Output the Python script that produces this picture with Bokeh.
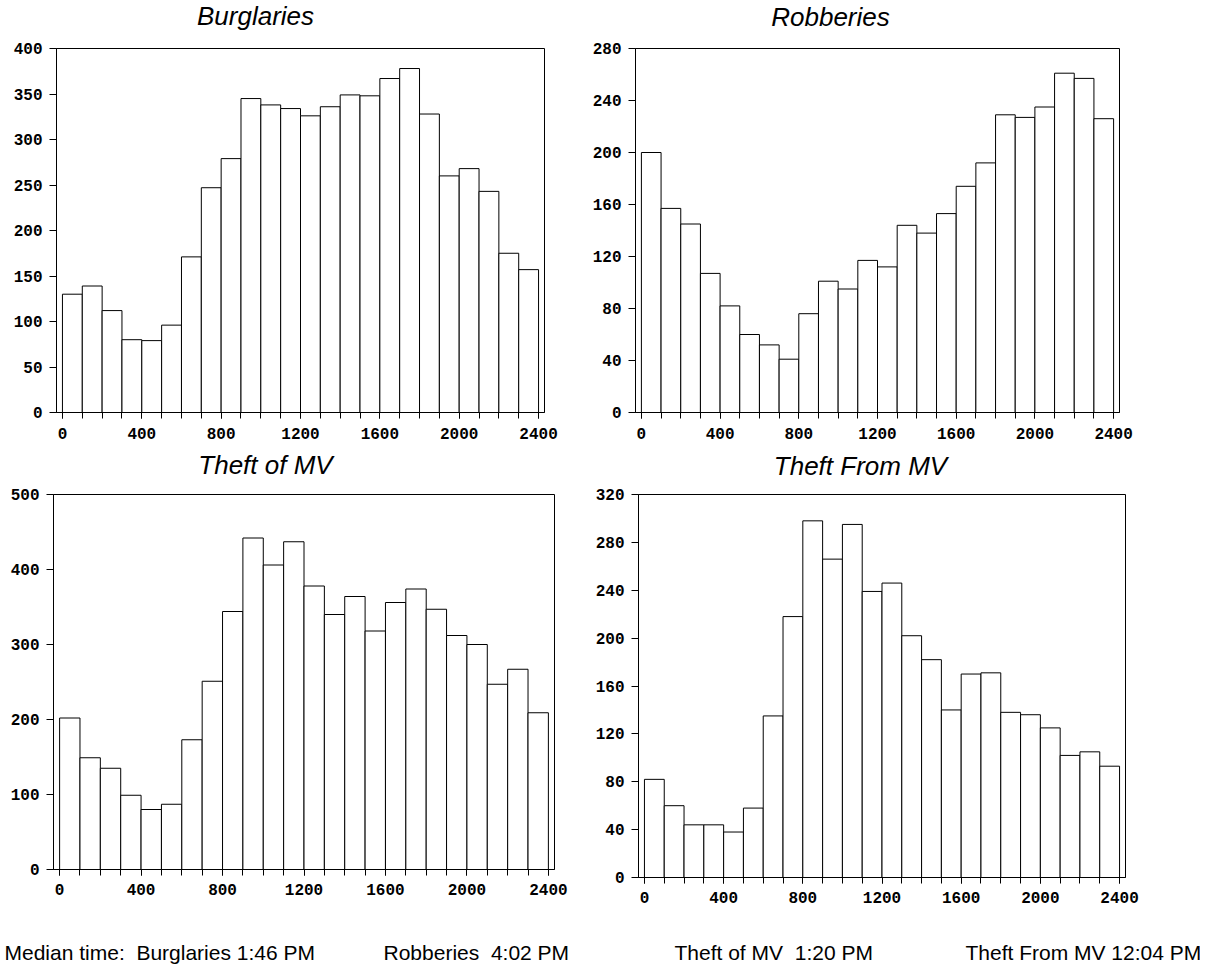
from bokeh.plotting import figure
from bokeh.models import Range1d, FixedTicker, Label
from bokeh.layouts import column, row
from bokeh.embed import file_html
from bokeh.resources import INLINE

# ---------------- data ----------------
bin_edges = [0, 100, 200, 300, 400, 500, 600, 700, 800, 900, 1000, 1100, 1200,
             1300, 1400, 1500, 1600, 1700, 1800, 1900, 2000, 2100, 2200, 2300, 2400]

burglaries = [130, 139, 112, 80, 79, 96, 171, 247, 279, 345, 338, 334,
              326, 336, 349, 348, 367, 378, 328, 260, 268, 243, 175, 157]
robberies = [200, 157, 145, 107, 82, 60, 52, 41, 76, 101, 95, 117,
             112, 144, 138, 153, 174, 192, 229, 227, 235, 261, 257, 226]
theft_of_mv = [202, 149, 135, 99, 80, 87, 173, 251, 344, 442, 406, 437,
               378, 340, 364, 318, 356, 374, 347, 312, 300, 247, 267, 209]
theft_from_mv = [82, 60, 44, 44, 38, 58, 135, 218, 298, 266, 295, 239,
                 246, 202, 182, 140, 170, 171, 138, 136, 125, 102, 105, 93]

titles = ["Burglaries", "Robberies", "Theft of MV", "Theft From MV"]

x_label_ticks = [0, 400, 800, 1200, 1600, 2000, 2400]

y_ticks_burg = [0, 50, 100, 150, 200, 250, 300, 350, 400]
y_ticks_rob = [0, 40, 80, 120, 160, 200, 240, 280]
y_ticks_tmv = [0, 100, 200, 300, 400, 500]
y_ticks_tfmv = [0, 40, 80, 120, 160, 200, 240, 280, 320]

NB = "\u00a0"
median_texts = ["Median time: " + NB + "Burglaries 1:46 PM", "Robberies " + NB + "4:02 PM",
                "Theft of MV " + NB + "1:20 PM", "Theft From MV 12:04 PM"]

# ---------------- styling / layout ----------------
TICK_FONT = "Liberation Mono"
TEXT_FONT = "Liberation Sans"
PAGE_W = 1200


def make_panel(values, y_ticks, bl, fw, br, bt, fh, bb, x_standoff):
    p = figure(width=bl + fw + br, height=bt + fh + bb,
               x_range=Range1d(-30, 2430),
               y_range=Range1d(y_ticks[0], y_ticks[-1]),
               output_backend="svg", toolbar_location=None,
               min_border_left=bl, min_border_right=br,
               min_border_top=bt, min_border_bottom=bb)
    p.background_fill_color = "white"
    p.border_fill_color = "white"
    p.outline_line_color = "black"
    p.outline_line_width = 1
    p.outline_line_alpha = 1
    p.grid.visible = False

    p.quad(left=bin_edges[:-1], right=bin_edges[1:], bottom=0, top=values,
           fill_color="white", line_color="black", line_width=1)

    xa = p.xaxis[0]
    xa.ticker = FixedTicker(ticks=x_label_ticks, minor_ticks=bin_edges)
    xa.major_tick_out = 6
    xa.major_tick_in = 0
    xa.minor_tick_out = 6
    xa.minor_tick_in = 0
    xa.major_tick_line_color = "black"
    xa.minor_tick_line_color = "black"
    xa.axis_line_color = "black"
    xa.major_label_standoff = x_standoff
    xa.major_label_text_font = TICK_FONT
    xa.major_label_text_font_style = "bold"
    xa.major_label_text_font_size = "16px"
    xa.major_label_text_color = "black"

    ya = p.yaxis[0]
    ya.ticker = FixedTicker(ticks=y_ticks, minor_ticks=[])
    ya.major_tick_out = 7
    ya.major_tick_in = 0
    ya.minor_tick_out = 0
    ya.minor_tick_in = 0
    ya.major_tick_line_color = "black"
    ya.axis_line_color = "black"
    ya.major_label_standoff = 7
    ya.major_label_text_font = TICK_FONT
    ya.major_label_text_font_style = "bold"
    ya.major_label_text_font_size = "16px"
    ya.major_label_text_color = "black"
    return p


def make_strip(height, texts, xs, ys, size, style, align):
    s = figure(width=PAGE_W, height=height, x_range=Range1d(0, PAGE_W),
               y_range=Range1d(0, height), output_backend="svg",
               toolbar_location=None, x_axis_type=None, y_axis_type=None,
               min_border_left=0, min_border_right=0,
               min_border_top=0, min_border_bottom=0)
    s.outline_line_color = None
    s.background_fill_color = "white"
    s.border_fill_color = "white"
    s.grid.visible = False
    for txt, x, y in zip(texts, xs, ys):
        s.add_layout(Label(x=x, y=y, x_units="screen", y_units="screen", text=txt,
                           text_align=align, text_baseline="alphabetic",
                           text_font=TEXT_FONT, text_font_style=style,
                           text_font_size=size, text_color="black"))
    return s


title_row1 = make_strip(38, titles[:2], [255, 830], [23, 22], "26px", "italic", "center")
p1 = make_panel(burglaries, y_ticks_burg, 56, 488, 41, 10, 364, 36, 9)
p2 = make_panel(robberies, y_ticks_rob, 50, 484, 40, 10, 364, 36, 9)
title_row2 = make_strip(34, titles[2:], [265, 860], [18, 17], "26px", "italic", "center")
p3 = make_panel(theft_of_mv, y_ticks_tmv, 53, 501, 36, 10, 377, 40, 8)
p4 = make_panel(theft_from_mv, y_ticks_tfmv, 48, 487, 40, 12, 383, 40, 8)
footer = make_strip(55, median_texts, [4, 383, 674, 965], [20, 20, 20, 20], "21px", "normal", "left")

layout = column(title_row1, row(p1, p2), title_row2, row(p3, p4), footer)

open("out.html", "w").write(file_html(layout, INLINE))
